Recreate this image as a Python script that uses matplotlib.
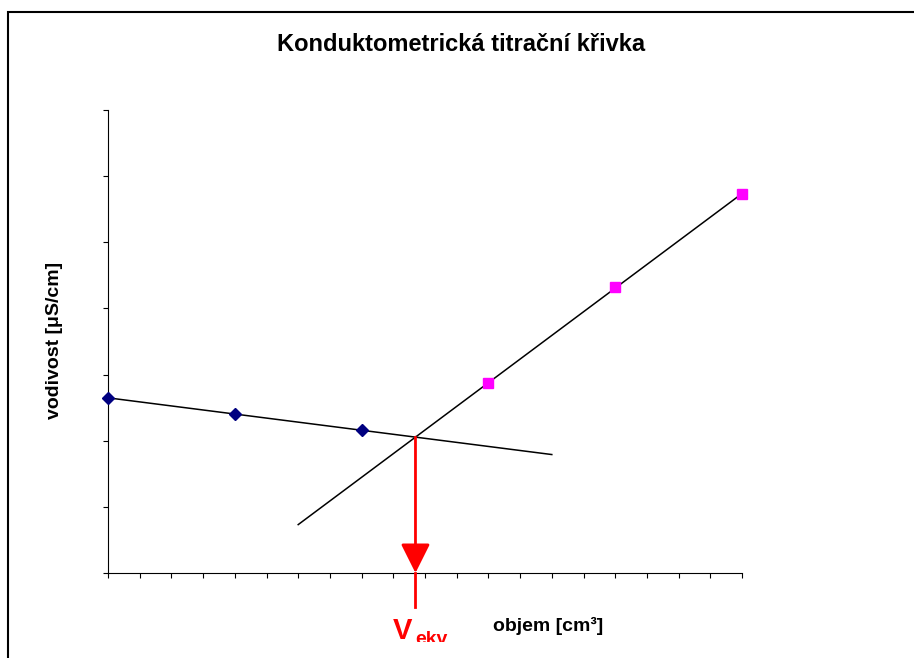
import numpy as np
import matplotlib
matplotlib.use('Agg')
import matplotlib.pyplot as plt
from matplotlib.patches import Rectangle
from matplotlib.transforms import Bbox, TransformedBbox

plt.rcParams['font.family'] = ['Liberation Sans', 'DejaVu Sans']

# data (y in axis-tick units)
objem_a = [0, 4, 8]
vodivost_a = [2.65, 2.40, 2.16]
objem_b = [12, 16, 20]
vodivost_b = [2.87, 4.32, 5.73]

# range over which each trend line is drawn
trend_a_x = [0, 14]
trend_b_x = [6, 20]

title = 'Konduktometrická titrační křivka'
ylabel = 'vodivost [μS/cm]'
xlabel = 'objem [cm³]'

W, H = 914, 658
fig = plt.figure(figsize=(W / 100, H / 100), dpi=100)
ax = fig.add_axes([108 / W, 1 - 573 / H, (742 - 108) / W, (573 - 110) / H])

# outer chart frame (right/bottom edges are cut off in the reference)
fig.patches.append(Rectangle((8 / W, -0.2), 1.5, 1.2 - 12 / H + 0.0,
                             transform=fig.transFigure, fill=False,
                             edgecolor='black', lw=1.5))

# linear trend lines
ka, qa = np.polyfit(objem_a, vodivost_a, 1)
kb, qb = np.polyfit(objem_b, vodivost_b, 1)
xa = np.array(trend_a_x, dtype=float)
xb = np.array(trend_b_x, dtype=float)
ax.plot(xa, ka * xa + qa, color='black', lw=1.1, zorder=2)
ax.plot(xb, kb * xb + qb, color='black', lw=1.1, zorder=2)

ax.plot(objem_a, vodivost_a, linestyle='none', marker='D', ms=5.8,
        color='#000080', zorder=3, clip_on=False)
ax.plot(objem_b, vodivost_b, linestyle='none', marker='s', ms=7.6,
        color='#FF00FF', zorder=3, clip_on=False)

# equivalence point
x_eq = (qb - qa) / (ka - kb)
y_eq = ka * x_eq + qa
red = '#FF0000'
ax.annotate('', xy=(x_eq, 0), xytext=(x_eq, y_eq),
            arrowprops=dict(arrowstyle='-|>,head_length=1.0,head_width=0.5',
                            mutation_scale=18, color=red, lw=2,
                            shrinkA=0, shrinkB=0),
            annotation_clip=False, zorder=4)
ax.plot([x_eq, x_eq], [0, -0.51], color=red, lw=2, clip_on=False, zorder=4)

clip = TransformedBbox(Bbox.from_extents(0, 16 / H, 1, 1), fig.transFigure)
t1 = ax.annotate('V', xy=(x_eq, 0), xytext=(-3, -66), textcoords='offset pixels',
                 ha='right', va='baseline', color=red, fontsize=21,
                 fontweight='bold', annotation_clip=False)
t2 = ax.annotate('ekv', xy=(x_eq, 0), xytext=(0, -71), textcoords='offset pixels',
                 ha='left', va='baseline', color=red, fontsize=14,
                 fontweight='bold', annotation_clip=False)
for t in (t1, t2):
    t.set_clip_box(clip)
    t.set_clip_on(True)

ax.set_xlim(0, 20)
ax.set_ylim(0, 7)
ax.set_xticks(np.arange(0, 21, 1))
ax.set_yticks(np.arange(0, 8, 1))
ax.tick_params(direction='out', length=3.5, width=0.8, color='black',
               labelbottom=False, labelleft=False)
for s in ('top', 'right'):
    ax.spines[s].set_visible(False)
for s in ('left', 'bottom'):
    ax.spines[s].set_linewidth(0.8)

fig.text(461 / W, 1 - 51 / H, title, ha='center', va='baseline',
         fontsize=17, fontweight='bold')
fig.text(55 / W, 1 - 340 / H, ylabel, ha='center', va='center',
         rotation=90, fontsize=14, fontweight='bold')
fig.text(548 / W, 1 - 631 / H, xlabel, ha='center', va='baseline',
         fontsize=14, fontweight='bold')

fig.savefig('out.png', dpi=100, facecolor='white')
